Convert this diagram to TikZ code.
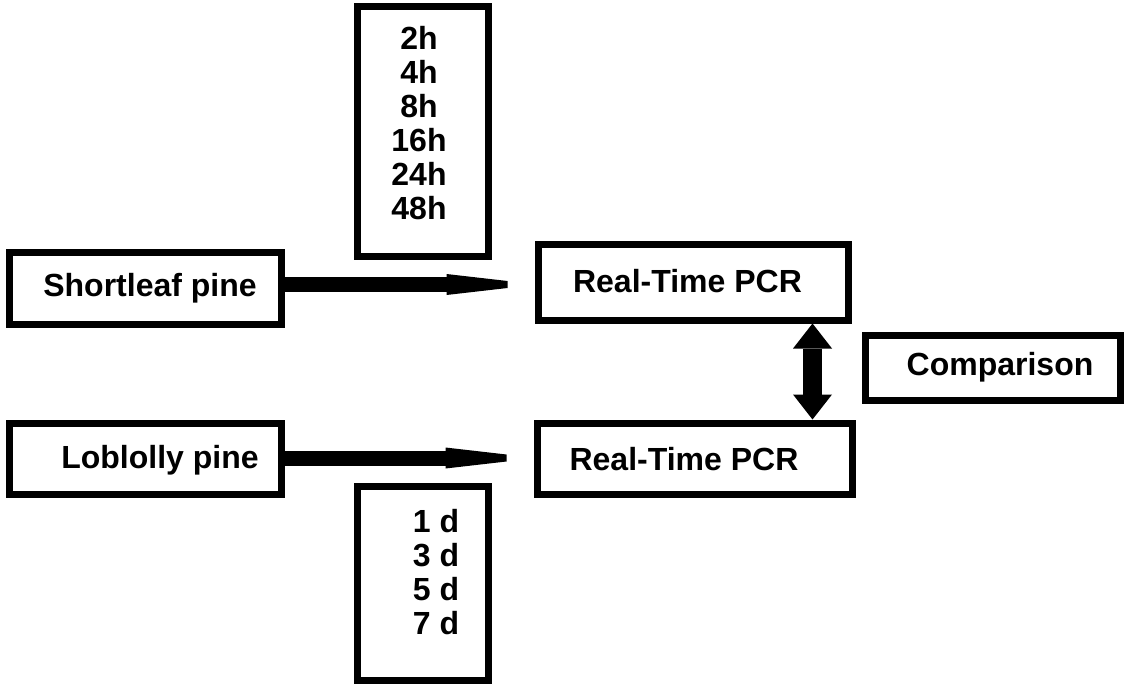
\documentclass[tikz,border=0pt]{standalone}
\usepackage{fontspec}
\setmainfont{Liberation Sans}
\usetikzlibrary{arrows.meta,calc}
\begin{document}
\begin{tikzpicture}[x=1pt,y=-1pt,
  box/.style={draw=black,line width=7pt,rectangle,inner sep=0pt,fill=white},
  txt/.style={font=\fontsize{32}{34}\selectfont\bfseries,inner sep=0pt},
  shaft/.style={line width=15pt},
  varrow/.style={line width=19pt,{Triangle[length=25pt,width=39pt,line width=0pt]}-{Triangle[length=25pt,width=39pt,line width=0pt]}}]
\useasboundingbox (0,0) rectangle (1131,685);
% boxes
\node[box,minimum width=131pt,minimum height=249pt] (tbox) at (422.5,131.5) {};
\node[box,minimum width=272pt,minimum height=72pt] (sl) at (145,288) {};
\node[box,minimum width=272pt,minimum height=71pt] (lob) at (145,458.5) {};
\node[box,minimum width=310pt,minimum height=76pt] (pcr1) at (693,282) {};
\node[box,minimum width=315pt,minimum height=71pt] (pcr2) at (694.5,458.5) {};
\node[box,minimum width=255pt,minimum height=65pt] (cmp) at (992.5,367.5) {};
\node[box,minimum width=131pt,minimum height=194pt] (dbox) at (422.5,583) {};
% texts
\node[txt,align=center] (ttxt) at (419,123) {2h\\4h\\8h\\16h\\24h\\48h};
\node[txt,align=right] (dtxt) at (436,572) {1 d\\3 d\\5 d\\7 d};
\node[txt] (sltxt) at (150,288) {Shortleaf pine};
\node[txt] (lobtxt) at (160,460) {Loblolly pine};
\node[txt] (p1txt) at (687.5,281) {Real-Time PCR};
\node[txt] (p2txt) at (684,459) {Real-Time PCR};
\node[txt] (cmptxt) at (1000,367) {Comparison};
% connectors
\coordinate (ya) at (0,284.5);
\coordinate (yb) at (0,458);
\coordinate (ha) at ($(pcr1.west |- ya)+(-88,0)$);
\coordinate (hb) at ($(pcr2.west |- yb)+(-88,0)$);
\draw[shaft] (sl.east |- ya) -- ($(ha)+(1,0)$);
\fill (ha) ++(0,-10.5) -- ++(61,7) -- ++(0,7) -- ++(-61,7) -- cycle;
\draw[shaft] (lob.east |- yb) -- ($(hb)+(1,0)$);
\fill (hb) ++(0,-10.5) -- ++(61,7) -- ++(0,7) -- ++(-61,7) -- cycle;
\coordinate (dx) at (812.5,0);
\draw[varrow] (dx |- pcr1.south) -- (dx |- pcr2.north);
\end{tikzpicture}
\end{document}
